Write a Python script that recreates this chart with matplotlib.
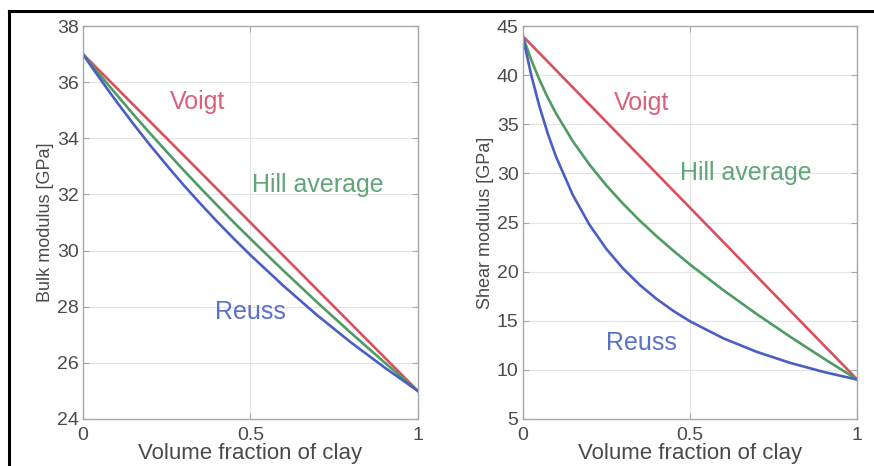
import matplotlib
matplotlib.use("Agg")
import matplotlib.pyplot as plt
from matplotlib.lines import Line2D

plt.rcParams['font.family'] = ['Liberation Sans', 'DejaVu Sans']

frac = [0.0, 0.025, 0.05, 0.075, 0.1, 0.15, 0.2, 0.25, 0.3, 0.35, 0.4, 0.45,
        0.5, 0.6, 0.7, 0.8, 0.9, 1.0]

# Bulk modulus [GPa]
bulk_voigt = [37.0, 36.7, 36.4, 36.1, 35.8, 35.2, 34.6, 34.0, 33.4, 32.8, 32.2, 31.6,
              31.0, 29.8, 28.6, 27.4, 26.2, 25.0]
bulk_reuss = [37.0, 36.56, 36.14, 35.72, 35.31, 34.52, 33.76, 33.04, 32.34, 31.68, 31.04, 30.43,
              29.84, 28.73, 27.69, 26.73, 25.84, 25.0]
bulk_hill = [37.0, 36.63, 36.27, 35.91, 35.56, 34.86, 34.18, 33.52, 32.87, 32.24, 31.62, 31.01,
             30.42, 29.27, 28.15, 27.07, 26.02, 25.0]

# Shear modulus [GPa]
shear_voigt = [44.0, 43.13, 42.25, 41.38, 40.5, 38.75, 37.0, 35.25, 33.5, 31.75, 30.0, 28.25,
               26.5, 23.0, 19.5, 16.0, 12.5, 9.0]
shear_reuss = [44.0, 40.1, 36.84, 34.06, 31.68, 27.79, 24.75, 22.31, 20.31, 18.64, 17.22, 16.0,
               14.94, 13.2, 11.82, 10.7, 9.78, 9.0]
shear_hill = [44.0, 41.61, 39.55, 37.72, 36.09, 33.27, 30.88, 28.78, 26.91, 25.19, 23.61, 22.13,
              20.72, 18.1, 15.66, 13.35, 11.14, 9.0]

red = '#d8505e'
green = '#4f9c62'
blue = '#4b5ec4'

fig = plt.figure(figsize=(8.74, 4.66), dpi=100)


def style_axes(ax, ylim, yticks, ylabel):
    ax.set_xlim(0, 1)
    ax.set_ylim(*ylim)
    ax.set_xticks([0, 0.5, 1])
    ax.set_xticklabels(['0', '0.5', '1'])
    ax.set_yticks(yticks)
    ax.grid(True, color='#e4e4e4', linewidth=0.8)
    for sp in ax.spines.values():
        sp.set_color('#a8a8a8')
        sp.set_linewidth(1.0)
    ax.tick_params(direction='in', length=4, color='#a8a8a8', labelsize=14,
                   labelcolor='#4a4a4a', top=True, right=True, pad=3)
    ax.tick_params(axis='x', pad=6)
    ax.set_xlabel('Volume fraction of clay', fontsize=16, color='#4a4a4a', labelpad=-1)
    ax.set_ylabel(ylabel, fontsize=13, color='#4a4a4a', labelpad=2)


ax1 = fig.add_axes([0.095, 0.101, 0.383, 0.843])
ax1.plot(frac, bulk_voigt, color=red, lw=1.9)
ax1.plot(frac, bulk_hill, color=green, lw=1.9)
ax1.plot(frac, bulk_reuss, color=blue, lw=1.9)
style_axes(ax1, (24, 38), [24, 26, 28, 30, 32, 34, 36, 38], 'Bulk modulus [GPa]')
ax1.text(0.343, 35.3, 'Voigt', color='#d9607a', fontsize=18, ha='center', va='center')
ax1.text(0.70, 32.35, 'Hill average', color='#5fa678', fontsize=18, ha='center', va='center')
ax1.text(0.50, 27.8, 'Reuss', color='#5a70cc', fontsize=18, ha='center', va='center')

ax2 = fig.add_axes([0.598, 0.101, 0.383, 0.843])
ax2.plot(frac, shear_voigt, color=red, lw=1.9)
ax2.plot(frac, shear_hill, color=green, lw=1.9)
ax2.plot(frac, shear_reuss, color=blue, lw=1.9)
style_axes(ax2, (5, 45), [5, 10, 15, 20, 25, 30, 35, 40, 45], 'Shear modulus [GPa]')
ax2.text(0.354, 37.2, 'Voigt', color='#d9607a', fontsize=18, ha='center', va='center')
ax2.text(0.668, 30.0, 'Hill average', color='#5fa678', fontsize=18, ha='center', va='center')
ax2.text(0.354, 12.7, 'Reuss', color='#5a70cc', fontsize=18, ha='center', va='center')

# black frame on the left and top edges
fig.add_artist(Line2D([0.0103, 0.0103], [0.0, 0.976], color='black', lw=2.2,
                      transform=fig.transFigure))
fig.add_artist(Line2D([0.0103, 1.0], [0.976, 0.976], color='black', lw=2.2,
                      transform=fig.transFigure))

fig.savefig('out.png', dpi=100)
